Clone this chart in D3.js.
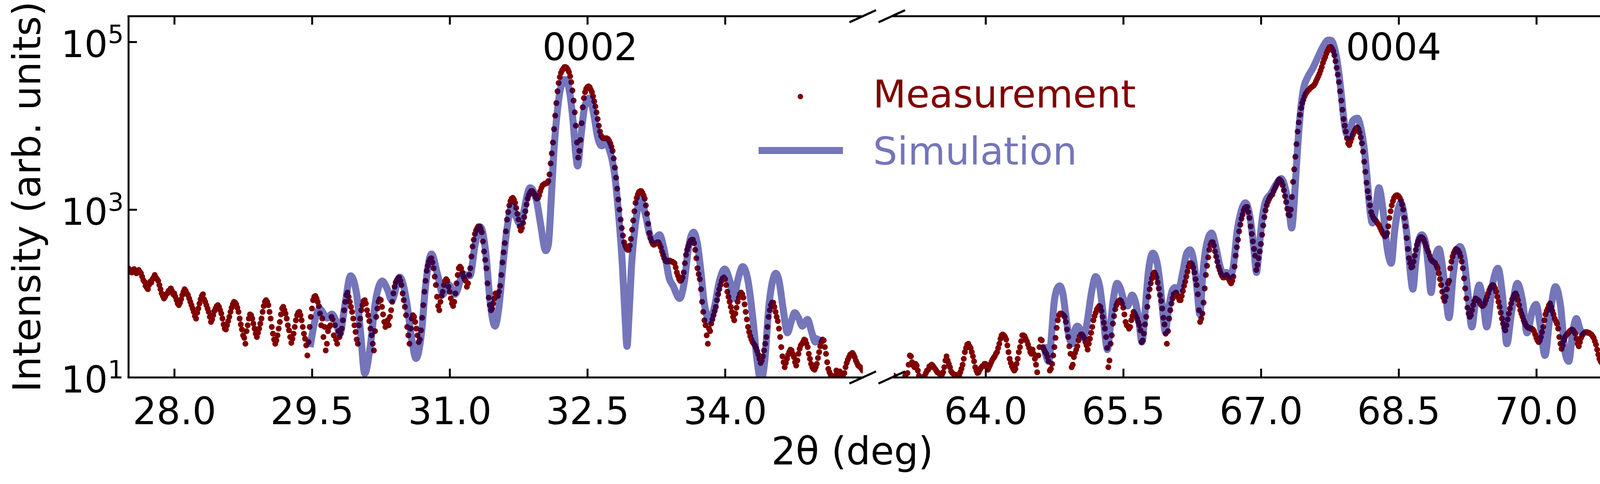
<!DOCTYPE html>
<html>
<head>
<meta charset="utf-8">
<script src="https://cdnjs.cloudflare.com/ajax/libs/d3/7.8.5/d3.min.js"></script>
<style>
  html, body { margin: 0; padding: 0; background: #ffffff; }
  svg { display: block; font-family: "DejaVu Sans", sans-serif; }
</style>
</head>
<body>
<script>
// ---------------- DATA ----------------
// Measured 2theta grid: each panel is scanned from its start to its end angle
const leftStart = 27.5, leftEnd = 35.5;
const rightStart = 63.0, rightEnd = 71.0;

// Measured intensity, log10(counts), one value per scan step (0.0125 deg)
const measLeftLog10 = [
  2.30,2.27,2.28,2.25,2.27,2.29,2.26,2.24,2.27,2.28,2.26,2.24,2.20,2.16,2.14,2.09,2.07,2.05,2.10,2.14,
  2.13,2.17,2.19,2.22,2.19,2.17,2.15,2.10,2.05,2.00,1.97,1.94,1.96,1.99,2.00,2.03,2.04,2.06,2.03,1.99,
  2.00,1.96,1.92,1.88,1.86,1.89,1.93,1.98,2.02,2.05,2.03,2.00,1.98,1.94,1.90,1.86,1.82,1.78,1.73,1.70,
  1.77,1.82,1.88,1.93,1.97,1.99,1.93,1.90,1.86,1.82,1.78,1.72,1.66,1.69,1.74,1.79,1.82,1.85,1.86,1.84,
  1.80,1.76,1.70,1.63,1.58,1.57,1.62,1.67,1.72,1.78,1.83,1.87,1.90,1.89,1.87,1.83,1.78,1.70,1.63,1.57,
  1.50,1.47,1.40,1.55,1.62,1.70,1.75,1.74,1.70,1.64,1.58,1.52,1.48,1.53,1.58,1.64,1.70,1.78,1.85,1.90,
  1.92,1.90,1.86,1.78,1.70,1.60,1.52,1.45,1.40,1.44,1.50,1.58,1.66,1.75,1.82,1.84,1.80,1.76,1.70,1.62,
  1.56,1.48,1.41,1.46,1.52,1.60,1.68,1.74,1.77,1.78,1.74,1.68,1.60,1.52,1.46,1.38,1.26,1.42,1.60,1.72,
  1.82,1.92,1.96,1.97,1.94,1.90,1.85,1.76,1.62,1.70,1.48,1.60,1.32,1.40,1.55,1.60,1.62,1.72,1.69,1.50,
  1.62,1.45,1.40,1.55,1.48,1.52,1.58,1.68,1.80,1.90,1.98,2.01,1.96,1.90,1.84,1.78,1.70,1.62,1.54,1.45,
  1.40,1.62,1.70,1.80,1.86,1.91,1.92,1.88,1.80,1.74,1.67,1.58,1.50,1.40,1.32,1.55,1.72,1.82,1.90,1.93,
  1.92,1.84,1.75,1.66,1.60,1.63,1.68,1.62,1.72,1.80,1.90,2.00,2.08,2.13,2.16,2.18,2.19,2.15,2.10,2.00,
  1.92,1.84,1.74,1.60,1.50,1.40,1.58,1.70,1.74,1.72,1.66,1.58,1.50,1.42,1.45,1.56,1.71,1.86,2.02,2.15,
  2.27,2.33,2.38,2.41,2.42,2.37,2.30,2.20,2.10,1.96,1.85,1.80,1.90,1.97,2.02,2.10,2.15,2.17,2.15,2.08,
  2.02,1.94,1.88,1.85,1.90,2.00,2.12,2.22,2.30,2.32,2.30,2.25,2.20,2.17,2.15,2.08,2.12,2.22,2.30,2.44,
  2.56,2.64,2.71,2.75,2.78,2.80,2.80,2.77,2.73,2.62,2.50,2.40,2.30,2.12,1.95,1.86,1.80,1.82,1.88,1.94,
  2.00,1.98,1.97,2.02,2.09,2.22,2.37,2.49,2.60,2.74,2.88,2.97,3.05,3.10,3.13,3.14,3.12,3.08,3.02,2.95,
  2.88,2.80,2.75,2.78,2.84,2.91,2.98,3.06,3.13,3.17,3.20,3.22,3.22,3.20,3.18,3.15,3.13,3.14,3.17,3.22,
  3.26,3.29,3.30,3.31,3.31,3.32,3.34,3.42,3.55,3.67,3.80,3.96,4.12,4.27,4.41,4.51,4.58,4.63,4.66,4.68,
  4.70,4.70,4.69,4.67,4.64,4.59,4.52,4.42,4.30,4.16,4.00,3.80,3.62,3.70,3.83,4.03,4.22,4.33,4.40,4.44,
  4.46,4.47,4.46,4.43,4.40,4.35,4.29,4.23,4.16,4.08,4.00,3.93,3.88,3.86,3.85,3.85,3.85,3.85,3.84,3.82,
  3.79,3.75,3.70,3.61,3.50,3.38,3.25,3.12,3.00,2.88,2.78,2.69,2.61,2.57,2.54,2.52,2.52,2.57,2.65,2.76,
  2.87,2.98,3.08,3.14,3.18,3.21,3.22,3.22,3.20,3.17,3.13,3.05,2.95,2.83,2.72,2.66,2.62,2.59,2.58,2.59,
  2.60,2.61,2.61,2.58,2.55,2.50,2.46,2.42,2.39,2.38,2.38,2.39,2.39,2.38,2.38,2.37,2.36,2.31,2.25,2.21,
  2.17,2.15,2.16,2.19,2.25,2.36,2.46,2.52,2.56,2.60,2.63,2.64,2.64,2.60,2.52,2.42,2.30,2.23,2.17,2.05,
  1.90,1.78,1.68,1.62,1.50,1.40,1.58,1.55,1.64,1.69,1.74,1.79,1.84,1.92,1.99,2.05,2.10,2.15,2.18,2.19,
  2.17,2.10,2.02,1.96,1.90,1.84,1.78,1.72,1.68,1.76,1.83,1.90,1.95,1.99,2.01,1.99,1.95,1.87,1.78,1.69,
  1.60,1.54,1.49,1.45,1.42,1.40,1.38,1.35,1.31,1.27,1.22,1.17,1.20,1.25,1.32,1.40,1.48,1.60,1.72,1.80,
  1.86,1.89,1.89,1.84,1.78,1.72,1.67,1.58,1.48,1.36,1.25,1.18,1.12,1.17,1.22,1.27,1.30,1.33,1.32,1.28,
  1.24,1.18,1.14,1.20,1.28,1.34,1.38,1.40,1.42,1.45,1.44,1.40,1.36,1.28,1.22,1.16,1.12,1.10,1.09,1.12,
  1.16,1.23,1.30,1.37,1.42,1.45,1.44,1.36,1.28,1.18,1.10,1.06,1.03,1.01,1.00,0.98,1.02,1.08,1.05,1.03,
  1.07,1.04,1.02,1.00,1.05,1.12,1.17,1.21,1.24,1.27,1.28,1.29,1.27,1.24,1.20,1.17,1.14,1.13,1.12,1.10,
  1.08
];
const measRightLog10 = [
  1.02,0.98,0.95,0.92,0.90,0.94,0.97,0.95,0.93,0.98,1.02,1.04,1.05,1.15,1.26,1.25,1.18,1.14,1.12,1.16,
  1.14,1.08,1.02,0.97,0.93,0.94,0.96,1.02,1.05,1.08,1.09,1.13,1.12,1.15,1.14,1.12,1.10,1.08,1.06,1.05,
  1.04,1.02,1.03,1.06,1.12,1.20,1.25,1.20,1.16,1.12,1.07,1.05,1.04,1.03,1.03,1.00,0.97,1.02,1.06,1.10,
  1.15,1.22,1.30,1.35,1.39,1.40,1.37,1.35,1.30,1.25,1.19,1.12,1.08,1.05,1.06,1.09,1.11,1.13,1.14,1.16,
  1.16,1.12,1.09,1.12,1.15,1.18,1.21,1.23,1.25,1.28,1.30,1.35,1.40,1.46,1.50,1.51,1.50,1.48,1.45,1.38,
  1.30,1.22,1.17,1.13,1.10,1.08,1.10,1.16,1.22,1.30,1.36,1.43,1.50,1.50,1.49,1.46,1.43,1.39,1.35,1.30,
  1.28,1.33,1.28,1.22,1.15,1.06,1.26,1.36,1.45,1.44,1.36,1.33,1.30,1.28,1.24,1.19,1.08,1.10,1.16,1.26,
  1.36,1.47,1.59,1.68,1.74,1.76,1.76,1.75,1.74,1.72,1.66,1.57,1.48,1.37,1.28,1.12,1.15,1.24,1.29,1.33,
  1.37,1.44,1.49,1.51,1.51,1.49,1.47,1.42,1.38,1.33,1.40,1.46,1.53,1.60,1.68,1.73,1.77,1.81,1.83,1.85,
  1.84,1.79,1.72,1.65,1.58,1.48,1.35,1.12,1.20,1.40,1.50,1.64,1.73,1.81,1.86,1.89,1.91,1.92,1.91,1.88,
  1.83,1.75,1.66,1.62,1.61,1.58,1.60,1.68,1.73,1.78,1.76,1.73,1.70,1.66,1.62,1.56,1.42,1.44,1.52,1.63,
  1.72,1.84,1.96,2.05,2.12,2.18,2.23,2.25,2.23,2.19,2.13,2.06,1.98,1.91,1.82,1.71,1.63,1.52,1.40,1.55,
  1.70,1.80,1.88,1.94,1.99,2.00,2.01,1.98,1.95,1.92,1.92,1.97,2.03,2.09,2.14,2.20,2.26,2.32,2.36,2.36,
  2.35,2.31,2.25,2.17,2.10,1.99,1.80,1.66,1.70,1.76,1.89,2.06,2.22,2.33,2.43,2.52,2.58,2.61,2.61,2.57,
  2.50,2.44,2.38,2.32,2.28,2.24,2.21,2.19,2.19,2.21,2.22,2.20,2.17,2.14,2.12,2.15,2.20,2.32,2.45,2.55,
  2.64,2.74,2.82,2.89,2.94,2.99,3.02,3.03,3.03,2.97,2.90,2.80,2.71,2.62,2.53,2.45,2.28,2.34,2.42,2.50,
  2.59,2.70,2.81,2.91,2.99,3.05,3.09,3.12,3.15,3.17,3.18,3.22,3.25,3.28,3.31,3.34,3.36,3.35,3.33,3.29,
  3.23,3.16,3.09,3.01,2.94,2.93,3.00,3.15,3.33,3.48,3.63,3.78,3.93,4.04,4.13,4.21,4.27,4.31,4.35,4.38,
  4.40,4.42,4.43,4.45,4.46,4.47,4.48,4.50,4.53,4.56,4.59,4.62,4.66,4.70,4.75,4.79,4.82,4.86,4.89,4.92,
  4.94,4.94,4.92,4.89,4.84,4.77,4.69,4.61,4.52,4.41,4.30,4.19,4.08,4.00,3.93,3.85,3.79,3.77,3.81,3.85,
  3.89,3.92,3.95,3.97,3.98,3.96,3.92,3.86,3.79,3.69,3.57,3.45,3.32,3.22,3.14,3.05,2.97,2.93,2.90,2.88,
  2.87,2.85,2.83,2.81,2.78,2.75,2.72,2.70,2.68,2.69,2.72,2.80,2.90,2.98,3.05,3.10,3.14,3.16,3.17,3.17,
  3.16,3.14,3.11,3.06,3.00,2.90,2.80,2.66,2.53,2.42,2.36,2.31,2.32,2.38,2.45,2.52,2.58,2.62,2.65,2.67,
  2.67,2.66,2.64,2.60,2.56,2.52,2.49,2.45,2.41,2.39,2.38,2.37,2.36,2.33,2.30,2.24,2.17,2.10,2.02,1.95,
  1.91,1.96,2.05,2.12,2.15,2.30,2.38,2.44,2.48,2.51,2.53,2.52,2.51,2.48,2.44,2.38,2.30,2.18,2.06,1.94,
  1.83,1.76,1.72,1.74,1.80,1.86,1.91,1.94,1.93,1.92,1.91,1.88,1.86,1.85,1.86,1.88,1.92,1.96,2.00,2.04,
  2.07,2.09,2.10,2.09,2.06,2.02,1.96,1.90,1.84,1.77,1.70,1.64,1.59,1.56,1.62,1.69,1.76,1.82,1.88,1.93,
  1.96,1.99,2.00,1.97,1.92,1.86,1.80,1.76,1.72,1.68,1.65,1.62,1.60,1.59,1.59,1.58,1.58,1.57,1.55,1.51,
  1.47,1.44,1.42,1.44,1.48,1.54,1.60,1.68,1.75,1.79,1.82,1.86,1.88,1.84,1.79,1.75,1.70,1.67,1.64,1.58,
  1.48,1.40,1.34,1.38,1.44,1.48,1.50,1.52,1.53,1.55,1.56,1.57,1.56,1.54,1.52,1.46,1.40,1.37,1.42,1.47,
  1.50,1.52,1.53,1.54,1.54,1.53,1.53,1.52,1.51,1.49,1.47,1.43,1.39,1.33,1.27,1.22,1.19,1.17,1.22,1.29,
  1.35,1.44,1.49,1.49,1.48,1.47,1.46,1.43,1.40,1.37,1.34,1.31,1.28,1.24,1.21,1.19,1.22,1.25,1.17,1.14,
  1.12
];

// Simulation curve, read as (2theta, log10 intensity) points
const simLeftDeg = [29.48,29.532,29.584,29.664,29.716,29.76,29.804,29.855,29.921,29.987,30.031,30.075,30.134,30.193,30.266,30.325,30.369,30.457,30.53,30.589,30.633,30.692,30.736,30.802,30.868,30.927,30.993,31.059,31.147,31.22,31.279,31.335,31.396,31.44,31.494,31.537,31.58,31.622,31.679,31.721,31.764,31.877,31.948,31.99,32.047,32.075,32.104,32.132,32.174,32.217,32.259,32.302,32.344,32.373,32.394,32.429,32.472,32.521,32.571,32.613,32.656,32.698,32.741,32.797,32.84,32.882,32.911,32.932,32.953,32.981,33.024,33.08,33.137,33.18,33.222,33.286,33.335,33.392,33.434,33.505,33.558,33.601,33.657,33.699,33.742,33.77,33.798,33.826,33.883,33.939,33.996,34.052,34.095,34.137,34.193,34.25,34.306,34.349,34.391,34.433,34.476,34.518,34.553,34.588,34.631,34.68,34.722,34.758,34.8,34.842,34.899,34.941,34.983,35.026];
const simLeftLog10 = [1.36,1.675,1.816,1.706,1.753,1.675,1.517,1.83,2.21,1.99,1.517,1.044,1.36,1.91,2.147,2.04,1.919,2.194,1.91,1.44,1.225,1.52,2.07,2.47,2.226,1.99,2.10,1.99,2.226,2.21,2.59,2.793,2.46,1.91,1.61,1.84,2.33,2.75,3.04,2.92,2.83,3.26,3.10,2.83,2.51,2.58,3.07,3.64,4.18,4.48,4.55,4.43,4.06,3.67,3.52,3.86,4.23,4.33,4.13,3.86,3.76,3.79,3.71,3.42,2.95,2.33,1.72,1.37,1.72,2.33,2.83,3.12,2.92,2.70,2.63,2.70,2.53,2.18,2.09,1.94,2.15,2.54,2.73,2.59,2.21,1.91,1.75,1.67,1.83,2.15,2.29,2.15,1.94,2.15,2.32,2.15,1.67,1.20,0.95,1.20,1.83,2.15,2.24,2.15,1.83,1.53,1.67,1.77,1.71,1.61,1.69,1.55,1.42,1.49];
const simRightDeg = [64.632,64.689,64.717,64.745,64.781,64.809,64.845,64.873,64.901,64.944,64.972,65.0,65.036,65.071,65.114,65.157,65.199,65.242,65.277,65.313,65.327,65.355,65.391,65.433,65.469,65.511,65.547,65.596,65.639,65.674,65.703,65.738,65.774,65.823,65.873,65.909,65.937,65.958,65.994,66.036,66.065,66.1,66.15,66.192,66.228,66.27,66.306,66.334,66.369,66.405,66.462,66.512,66.555,66.597,66.625,66.668,66.704,66.739,66.782,66.831,66.881,66.923,66.952,66.98,67.016,67.051,67.108,67.165,67.221,67.264,67.306,67.335,67.363,67.384,67.406,67.434,67.462,67.505,67.562,67.618,67.675,67.732,67.76,67.803,67.845,67.874,67.902,67.93,67.959,68.001,68.051,68.087,68.129,68.157,68.186,68.214,68.25,68.285,68.328,68.375,68.42,68.455,68.524,68.573,68.606,68.63,68.655,68.687,68.72,68.752,68.793,68.825,68.853,68.89,68.939,68.98,69.02,69.048,69.094,69.143,69.167,69.208,69.256,69.297,69.338,69.379,69.419,69.46,69.517,69.582,69.63,69.679,69.728,69.793,69.85,69.899,69.956,69.997,70.045,70.094,70.151,70.208,70.265,70.314,70.354,70.395,70.436,70.477,70.517];
const simRightLog10 = [1.39,1.19,1.48,1.87,2.06,2.09,1.98,1.75,1.53,1.40,1.56,1.61,1.56,1.47,1.71,2.03,2.20,2.09,1.79,1.40,1.33,1.56,1.92,2.12,2.06,1.90,1.85,1.98,1.87,1.64,1.42,1.79,2.26,2.48,2.34,2.03,1.71,1.54,1.82,2.04,2.07,2.04,2.26,2.48,2.52,2.37,2.03,1.75,2.26,2.57,2.72,2.54,2.32,2.23,2.25,2.21,2.36,2.73,2.97,3.08,2.91,2.54,2.25,2.54,2.91,3.10,3.19,3.30,3.37,3.26,3.01,2.78,3.10,3.47,3.84,4.20,4.43,4.57,4.68,4.81,4.94,5.02,5.02,4.92,4.66,4.39,4.09,3.91,3.87,4.06,4.09,3.98,3.69,3.37,3.01,2.84,3.01,3.26,3.01,2.54,2.36,2.73,3.08,2.84,2.53,2.22,2.05,2.38,2.64,2.70,2.61,2.30,2.01,2.38,2.53,2.30,1.91,1.71,2.22,2.53,2.56,2.44,1.99,1.60,1.91,2.10,1.91,1.60,2.07,2.30,1.99,1.40,1.76,2.12,1.91,1.53,1.79,1.87,1.60,1.26,1.76,2.08,1.84,1.29,1.19,1.53,1.70,1.57,1.50];

// Axis / annotation content
const yDomain = [10, Math.pow(10, 5.308)];
const xTicksLeft = [28.0, 29.5, 31.0, 32.5, 34.0];
const xTicksRight = [64.0, 65.5, 67.0, 68.5, 70.0];
const yTicks = [10, 1000, 100000];
const yTickExponents = ["1", "3", "5"];
const peakLabels = [
  { text: "0002", panel: 0, angle: 32.53 },
  { text: "0004", panel: 1, angle: 68.445 }
];
const seriesNames = ["Measurement", "Simulation"];
const xLabel = "2θ (deg)";
const yLabel = "Intensity (arb. units)";

// ---------------- STYLE / LAYOUT ----------------
const W = 4193, H = 1238;
const plotTop = 41, plotBottom = 965;
const measColor = "#800000";
const simColor = "#000080", simAlpha = 0.54, simTextColor = "#7575ba";
const spineW = 5, tickLen = 22;
const dotR = 7.5, simWidth = 18;

const svg = d3.select("body").append("svg")
  .attr("width", W).attr("height", H).attr("viewBox", `0 0 ${W} ${H}`);
svg.append("rect").attr("width", W).attr("height", H).attr("fill", "#ffffff");

const y = d3.scaleLog().domain(yDomain).range([plotBottom, plotTop]);

const panels = [
  { x: d3.scaleLinear().domain([leftStart, leftEnd]).range([328.6, 2208.6]),
    start: leftStart, end: leftEnd, meas: measLeftLog10, simX: simLeftDeg, simY: simLeftLog10,
    ticks: xTicksLeft, side: "left" },
  { x: d3.scaleLinear().domain([rightStart, rightEnd]).range([2288, 4168]),
    start: rightStart, end: rightEnd, meas: measRightLog10, simX: simRightDeg, simY: simRightLog10,
    ticks: xTicksRight, side: "right" }
];

const defs = svg.append("defs");

panels.forEach((p, pi) => {
  const [x0, x1] = p.x.range();
  const clipId = "clip" + pi;
  defs.append("clipPath").attr("id", clipId)
    .append("rect").attr("x", x0).attr("y", plotTop)
    .attr("width", x1 - x0).attr("height", plotBottom - plotTop);

  const g = svg.append("g").attr("clip-path", `url(#${clipId})`);

  // measurement dots on the scan grid
  const step = (p.end - p.start) / (p.meas.length - 1);
  const measPts = p.meas.map((v, i) => ({ a: p.start + i * step, v: Math.pow(10, v) }));
  g.append("g").selectAll("circle").data(measPts).join("circle")
    .attr("cx", d => p.x(d.a))
    .attr("cy", d => y(d.v))
    .attr("r", dotR)
    .attr("fill", measColor);

  // simulation line (drawn on top, semi-transparent)
  const simPts = p.simX.map((a, i) => [a, Math.pow(10, p.simY[i])]);
  const line = d3.line().x(d => p.x(d[0])).y(d => y(d[1])).curve(d3.curveMonotoneX);
  g.append("path").datum(simPts)
    .attr("d", line)
    .attr("fill", "none")
    .attr("stroke", simColor)
    .attr("stroke-opacity", simAlpha)
    .attr("stroke-width", simWidth)
    .attr("stroke-linejoin", "round");

  // axes (spines + inward ticks)
  const fmt = d3.format(".1f");
  const bottom = svg.append("g").attr("transform", `translate(0,${plotBottom})`)
    .call(d3.axisBottom(p.x).tickValues(p.ticks).tickSizeInner(-tickLen).tickSizeOuter(0).tickFormat(fmt));
  bottom.selectAll("text").attr("y", 120).attr("dy", 0)
    .attr("font-size", 96).attr("font-family", "DejaVu Sans").attr("fill", "#000");

  const top = svg.append("g").attr("transform", `translate(0,${plotTop})`)
    .call(d3.axisTop(p.x).tickValues(p.ticks).tickSizeInner(-tickLen).tickSizeOuter(0).tickFormat(""));

  let vAxis;
  if (p.side === "left") {
    vAxis = svg.append("g").attr("transform", `translate(${x0},0)`)
      .call(d3.axisLeft(y).tickValues(yTicks).tickSizeInner(-tickLen).tickSizeOuter(0).tickPadding(12));
    vAxis.selectAll(".tick text").each(function (d) {
      const t = d3.select(this);
      t.text(null).attr("dy", 38).attr("font-size", 94)
        .attr("font-family", "DejaVu Sans").attr("fill", "#000");
      t.append("tspan").text("10");
      t.append("tspan").attr("dy", -36).attr("font-size", 64).text(yTickExponents[yTicks.indexOf(d)]);
    });
  } else {
    vAxis = svg.append("g").attr("transform", `translate(${x1},0)`)
      .call(d3.axisRight(y).tickValues(yTicks).tickSizeInner(-tickLen).tickSizeOuter(0).tickFormat(""));
  }

  [bottom, top, vAxis].forEach(ax => {
    ax.select(".domain").attr("stroke", "#000").attr("stroke-width", spineW)
      .attr("stroke-linecap", "square");
    ax.selectAll(".tick line").attr("stroke", "#000").attr("stroke-width", spineW);
  });
  vAxis.selectAll(".tick").filter(d => d === yTicks[0]).select("line").remove();
});

// break marks
const bx1 = panels[0].x.range()[1], bx2 = panels[1].x.range()[0];
[plotTop, plotBottom].forEach(yy => {
  [bx1, bx2 - 5].forEach(bx => {
    svg.append("line")
      .attr("x1", bx - 34).attr("y1", yy + 16)
      .attr("x2", bx + 34).attr("y2", yy - 15)
      .attr("stroke", "#000").attr("stroke-width", 5.5);
  });
});

// peak labels
peakLabels.forEach(l => {
  svg.append("text")
    .attr("x", panels[l.panel].x(l.angle)).attr("y", 154)
    .attr("text-anchor", "middle").attr("font-size", 96)
    .attr("fill", "#000").text(l.text);
});

// legend
const lg = svg.append("g");
lg.append("circle").attr("cx", 2049).attr("cy", 247).attr("r", 7).attr("fill", measColor);
lg.append("line").attr("x1", 1942).attr("x2", 2158).attr("y1", 385).attr("y2", 385)
  .attr("stroke", simColor).attr("stroke-opacity", simAlpha).attr("stroke-width", simWidth);
lg.append("text").attr("x", 2235).attr("y", 275).attr("font-size", 98)
  .attr("fill", measColor).text(seriesNames[0]);
lg.append("text").attr("x", 2235).attr("y", 421).attr("font-size", 98)
  .attr("fill", simTextColor).text(seriesNames[1]);

// axis titles
svg.append("text").attr("x", 2182).attr("y", 1188).attr("text-anchor", "middle")
  .attr("font-size", 98).attr("fill", "#000").text(xLabel);
svg.append("text").attr("transform", "translate(103,503) rotate(-90)")
  .attr("text-anchor", "middle").attr("font-size", 98).attr("fill", "#000").text(yLabel);
</script>
</body>
</html>
